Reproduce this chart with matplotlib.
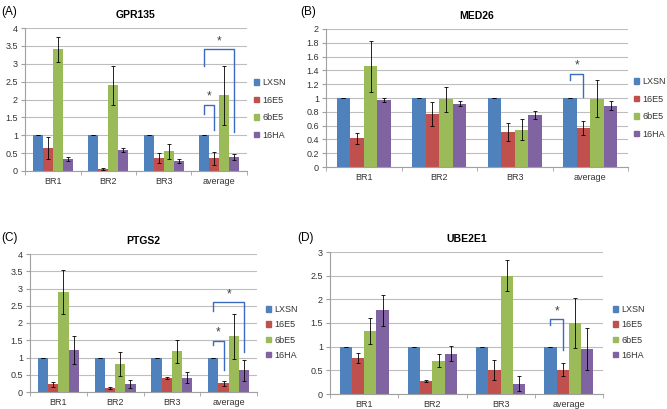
import numpy as np
from matplotlib import pyplot as plt
from matplotlib.patches import Patch

plt.rcParams['font.family'] = ['Liberation Sans', 'DejaVu Sans']

# categorias y series
groups = ['BR1', 'BR2', 'BR3', 'average']
series = ['LXSN', '16E5', '6bE5', '16HA']
colors = ['#4F81BD', '#C0504D', '#9BBB59', '#8064A2']

# (A) GPR135
gpr_lxsn = [1, 1, 1, 1]
gpr_16e5 = [0.65, 0.05, 0.37, 0.35]
gpr_6be5 = [3.4, 2.4, 0.55, 2.12]
gpr_16ha = [0.33, 0.58, 0.28, 0.40]
gpr_err_lxsn = [0, 0, 0, 0]
gpr_err_16e5 = [0.31, 0.02, 0.14, 0.18]
gpr_err_6be5 = [0.35, 0.55, 0.21, 0.83]
gpr_err_16ha = [0.06, 0.05, 0.05, 0.08]

# (B) MED26
med_lxsn = [1, 1, 1, 1]
med_16e5 = [0.42, 0.77, 0.51, 0.57]
med_6be5 = [1.46, 0.98, 0.54, 0.99]
med_16ha = [0.97, 0.92, 0.75, 0.89]
med_err_lxsn = [0, 0, 0, 0]
med_err_16e5 = [0.08, 0.17, 0.13, 0.10]
med_err_6be5 = [0.37, 0.18, 0.15, 0.27]
med_err_16ha = [0.03, 0.04, 0.06, 0.06]

# (C) PTGS2
ptg_lxsn = [1, 1, 1, 1]
ptg_16e5 = [0.22, 0.12, 0.41, 0.25]
ptg_6be5 = [2.9, 0.8, 1.18, 1.62]
ptg_16ha = [1.22, 0.24, 0.42, 0.63]
ptg_err_lxsn = [0, 0, 0, 0]
ptg_err_16e5 = [0.08, 0.03, 0.03, 0.08]
ptg_err_6be5 = [0.63, 0.35, 0.34, 0.65]
ptg_err_16ha = [0.40, 0.11, 0.16, 0.31]

# (D) UBE2E1
ube_lxsn = [1, 1, 1, 1]
ube_16e5 = [0.76, 0.28, 0.50, 0.51]
ube_6be5 = [1.33, 0.70, 2.50, 1.50]
ube_16ha = [1.77, 0.85, 0.22, 0.95]
ube_err_lxsn = [0, 0, 0, 0]
ube_err_16e5 = [0.11, 0.02, 0.21, 0.14]
ube_err_6be5 = [0.28, 0.14, 0.33, 0.53]
ube_err_16ha = [0.33, 0.16, 0.16, 0.45]

# corchetes de significancia: (serie izq, serie der, y izq, y arriba, y der)
gpr_brackets = [(0, 1, 1.6, 1.85, 1.15), (0, 3, 2.95, 3.4, 1.1)]
med_brackets = [(0, 1, 1.26, 1.35, 1.02)]
ptg_brackets = [(0, 1, 1.37, 1.49, 0.63), (0, 3, 2.36, 2.6, 1.17)]
ube_brackets = [(0, 1, 1.45, 1.58, 0.92)]

W, H = 667, 409
fig = plt.figure(figsize=(W / 100, H / 100), dpi=100)

bw = 0.18
bracket_color = '#3A6BC0'


def panel(box, title, letter, letter_xy, vals, errs, ymax, ystep, brackets, leg_xy, leg_gap):
    l, r, t, b = box
    ax = fig.add_axes([l / W, 1 - b / H, (r - l) / W, (b - t) / H])
    x = np.arange(len(groups))
    for i in range(4):
        xs = x + (i - 1.5) * bw
        ax.bar(xs, vals[i], bw, color=colors[i], zorder=2)
        ax.errorbar(xs, vals[i], yerr=errs[i], fmt='none', ecolor='black',
                    elinewidth=0.6, capsize=1.3, capthick=0.6, zorder=3)
    ax.set_xlim(-0.5, len(groups) - 0.5)
    ax.set_ylim(0, ymax)
    ticks = np.arange(0, ymax + ystep / 2, ystep)
    ax.set_yticks(ticks)
    ax.set_yticklabels(['%g' % v for v in ticks])
    ax.set_xticks(x)
    ax.set_xticklabels(groups)
    ax.set_xticks(np.arange(-0.5, len(groups)), minor=True)
    ax.tick_params(axis='x', which='major', length=0, labelsize=6.5, pad=4, colors='#333333')
    ax.tick_params(axis='x', which='minor', length=3, color='#A0A0A0')
    ax.tick_params(axis='y', length=3, labelsize=6.5, color='#A0A0A0', labelcolor='#333333', pad=2)
    ax.grid(axis='y', color='#BDBDBD', lw=0.8, zorder=0)
    for s in ['top', 'right']:
        ax.spines[s].set_visible(False)
    for s in ['left', 'bottom']:
        ax.spines[s].set_color('#A0A0A0')
        ax.spines[s].set_linewidth(0.8)
    # corchetes
    gi = len(groups) - 1
    for (a, c, y1, y2, y3) in brackets:
        xa = gi + (a - 1.5) * bw
        xc = gi + (c - 1.5) * bw
        ax.plot([xa, xa, xc, xc], [y1, y2, y2, y3], color=bracket_color, lw=1.0, zorder=4)
        ax.text((xa + xc) / 2, y2 + ymax * 0.015, '*', ha='center', va='bottom',
                fontsize=8.5, color='#404040', zorder=4)
    fig.text(((l + r) / 2) / W, 1 - (t - 13) / H, title, ha='center', va='center',
             fontsize=7.5, fontweight='bold')
    fig.text(letter_xy[0] / W, 1 - letter_xy[1] / H, letter, ha='left', va='center', fontsize=8.5)
    handles = [Patch(color=colors[i], label=series[i]) for i in range(4)]
    leg = fig.legend(handles=handles, loc='upper left',
                     bbox_to_anchor=(leg_xy[0] / W, 1 - leg_xy[1] / H),
                     frameon=False, fontsize=6.5, handlelength=0.55, handleheight=0.55,
                     handletextpad=0.35, labelspacing=leg_gap, borderaxespad=0, borderpad=0)
    for txt in leg.get_texts():
        txt.set_color('#333333')
    return ax


panel((25, 247, 28, 171), 'GPR135', '(A)', (1, 12),
      [gpr_lxsn, gpr_16e5, gpr_6be5, gpr_16ha],
      [gpr_err_lxsn, gpr_err_16e5, gpr_err_6be5, gpr_err_16ha],
      4, 0.5, gpr_brackets, (254, 78), 0.95)

panel((326, 628, 29, 167), 'MED26', '(B)', (300, 12),
      [med_lxsn, med_16e5, med_6be5, med_16ha],
      [med_err_lxsn, med_err_16e5, med_err_6be5, med_err_16ha],
      2, 0.2, med_brackets, (634, 77), 0.95)

panel((30, 257, 254, 392), 'PTGS2', '(C)', (1, 238),
      [ptg_lxsn, ptg_16e5, ptg_6be5, ptg_16ha],
      [ptg_err_lxsn, ptg_err_16e5, ptg_err_6be5, ptg_err_16ha],
      4, 0.5, ptg_brackets, (266, 305), 0.7)

panel((330, 603, 252, 394), 'UBE2E1', '(D)', (297, 238),
      [ube_lxsn, ube_16e5, ube_6be5, ube_16ha],
      [ube_err_lxsn, ube_err_16e5, ube_err_6be5, ube_err_16ha],
      3, 0.5, ube_brackets, (613, 305), 0.7)

plt.savefig('out.png', dpi=100)
